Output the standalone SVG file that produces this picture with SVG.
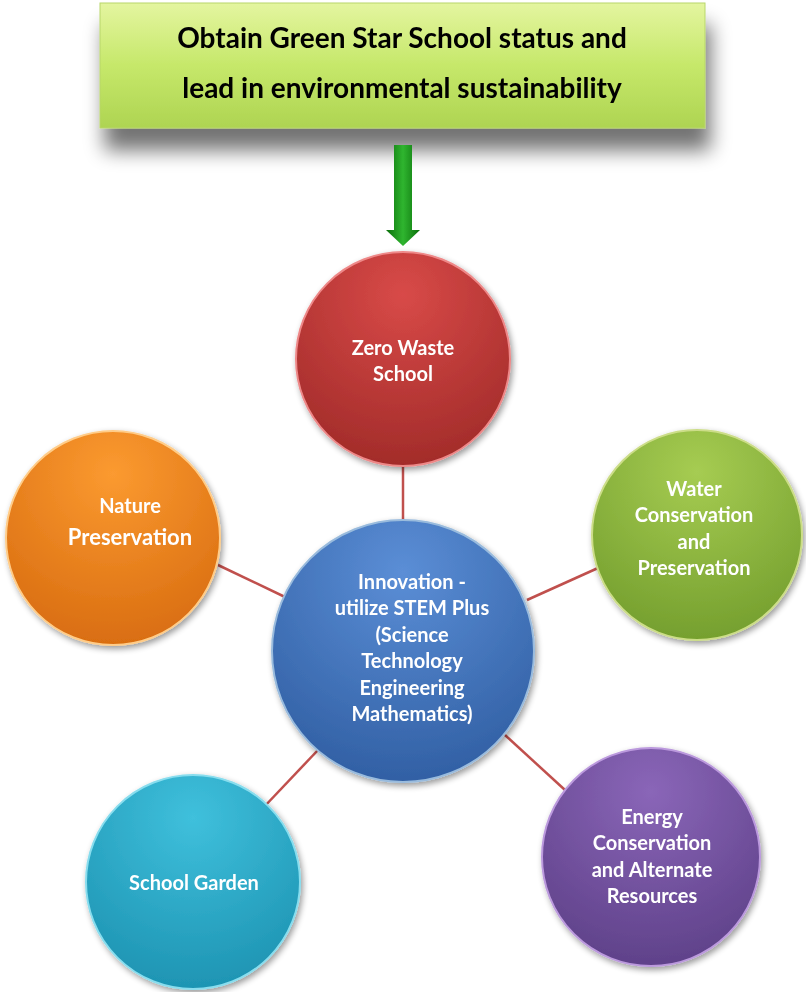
<svg xmlns="http://www.w3.org/2000/svg" width="806" height="992" viewBox="0 0 806 992">
<defs>
<style>
.t{font-family:Lato,"Liberation Sans",sans-serif;font-weight:bold;fill:#fff;text-anchor:middle;font-size:20px}
.h{font-family:Lato,"Liberation Sans",sans-serif;font-weight:bold;fill:#000;text-anchor:middle;font-size:28px}
.c{stroke:#c0504d;stroke-width:2.5;fill:none}
</style>
<linearGradient id="gb" x1="0" y1="0" x2="0" y2="1"><stop offset="0" stop-color="#e4f5a0"/><stop offset="0.5" stop-color="#c6e86a"/><stop offset="1" stop-color="#aed452"/></linearGradient>
<linearGradient id="ga" x1="0" y1="0" x2="1" y2="0"><stop offset="0" stop-color="#0a6e0a"/><stop offset="0.5" stop-color="#2fb52f"/><stop offset="1" stop-color="#0a6e0a"/></linearGradient>
<filter id="sh" x="-20%" y="-20%" width="140%" height="170%"><feGaussianBlur in="SourceAlpha" stdDeviation="10"/><feOffset dx="5" dy="22"/><feComponentTransfer><feFuncA type="linear" slope="0.55"/></feComponentTransfer><feMerge><feMergeNode/><feMergeNode in="SourceGraphic"/></feMerge></filter>
<filter id="cs" x="-20%" y="-20%" width="140%" height="140%"><feGaussianBlur in="SourceAlpha" stdDeviation="3"/><feOffset dx="2" dy="3"/><feComponentTransfer><feFuncA type="linear" slope="0.4"/></feComponentTransfer><feMerge><feMergeNode/><feMergeNode in="SourceGraphic"/></feMerge></filter>
<radialGradient id="gr" cx="0.5" cy="0.2" r="0.9"><stop offset="0" stop-color="#d84a48"/><stop offset="1" stop-color="#9c2826"/></radialGradient>
<radialGradient id="go" cx="0.5" cy="0.2" r="0.9"><stop offset="0" stop-color="#fb9a30"/><stop offset="1" stop-color="#d5680d"/></radialGradient>
<radialGradient id="gg" cx="0.5" cy="0.2" r="0.9"><stop offset="0" stop-color="#a6cc52"/><stop offset="1" stop-color="#6f9a2a"/></radialGradient>
<radialGradient id="gbl" cx="0.5" cy="0.2" r="0.9"><stop offset="0" stop-color="#5b8ed6"/><stop offset="1" stop-color="#2c5a9e"/></radialGradient>
<radialGradient id="gc" cx="0.5" cy="0.2" r="0.9"><stop offset="0" stop-color="#3fc0dc"/><stop offset="1" stop-color="#1a8fae"/></radialGradient>
<radialGradient id="gp" cx="0.5" cy="0.2" r="0.9"><stop offset="0" stop-color="#8a66b8"/><stop offset="1" stop-color="#5a3d84"/></radialGradient>
</defs>
<g id="connectors">
<line class="c" x1="403" y1="466" x2="403" y2="522"/>
<line class="c" x1="218" y1="565" x2="285" y2="597"/>
<line class="c" x1="598" y1="568" x2="527" y2="600"/>
<line class="c" x1="263" y1="808" x2="318" y2="750"/>
<line class="c" x1="565" y1="790" x2="505" y2="735"/>
</g>
<g id="title" filter="url(#sh)">
<rect x="100" y="3" width="605" height="125" fill="url(#gb)" stroke="#b8d66a"/>
<text class="h" x="402" y="48">Obtain Green Star School status and</text>
<text class="h" x="402" y="98">lead in environmental sustainability</text>
</g>
<g id="arrow">
<path d="M394,145 H412 V230 H420 L403,246 L386,230 H394 Z" fill="url(#ga)"/>
</g>
<g id="zero" filter="url(#cs)"><circle cx="403" cy="359" r="107" fill="url(#gr)" stroke="#e88" stroke-width="2"/>
<text class="t" x="403" y="355">Zero Waste</text><text class="t" x="403" y="381">School</text></g>
<g id="nature" filter="url(#cs)"><circle cx="113" cy="538" r="107" fill="url(#go)" stroke="#fc8" stroke-width="2"/>
<text class="t" x="130" y="513" font-size="22">Nature</text><text class="t" x="130" y="545" style="font-size:22px">Preservation</text></g>
<g id="water" filter="url(#cs)"><circle cx="697" cy="535" r="105" fill="url(#gg)" stroke="#cd8" stroke-width="2"/>
<text class="t" x="694" y="496">Water</text><text class="t" x="694" y="522">Conservation</text><text class="t" x="694" y="549">and</text><text class="t" x="694" y="575">Preservation</text></g>
<g id="center" filter="url(#cs)"><circle cx="403" cy="651" r="131" fill="url(#gbl)" stroke="#9bd" stroke-width="2"/>
<text class="t" x="412" y="589">Innovation -</text><text class="t" x="412" y="615">utilize STEM Plus</text><text class="t" x="412" y="642">(Science</text><text class="t" x="412" y="668">Technology</text><text class="t" x="412" y="695">Engineering</text><text class="t" x="412" y="721">Mathematics)</text></g>
<g id="garden" filter="url(#cs)"><circle cx="193" cy="882" r="107" fill="url(#gc)" stroke="#8de" stroke-width="2"/>
<text class="t" x="194" y="890">School Garden</text></g>
<g id="energy" filter="url(#cs)"><circle cx="651" cy="857" r="109" fill="url(#gp)" stroke="#b9d" stroke-width="2"/>
<text class="t" x="652" y="824">Energy</text><text class="t" x="652" y="850">Conservation</text><text class="t" x="652" y="877">and Alternate</text><text class="t" x="652" y="903">Resources</text></g>
</svg>
